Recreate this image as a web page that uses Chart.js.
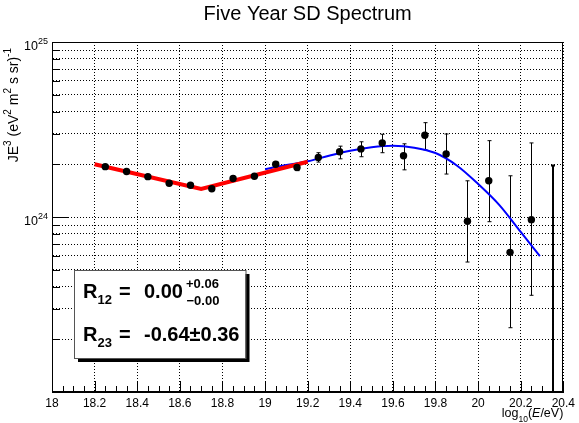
<!DOCTYPE html>
<html>
<head>
<meta charset="utf-8">
<script src="https://cdn.jsdelivr.net/npm/chart.js@4.4.1/dist/chart.umd.min.js"></script>
<style>
  html, body { margin: 0; padding: 0; background: #fff; }
  #wrap { width: 579px; height: 423px; }
</style>
</head>
<body>
<div id="wrap"><canvas id="spectrum" width="579" height="423"></canvas></div>
<script>
// log10(E/eV) bin centres
const logE = [18.25, 18.35, 18.45, 18.55, 18.65, 18.75, 18.85, 18.95, 19.05, 19.15,
              19.25, 19.35, 19.45, 19.55, 19.65, 19.75, 19.85, 19.95, 20.05, 20.15, 20.25];
// J E^3, in units of 1e24 eV^2 m^-2 s^-1 sr^-1
const flux   = [1.94, 1.82, 1.70, 1.56, 1.52, 1.45, 1.66, 1.71, 2.00, 1.92,
                2.19, 2.36, 2.45, 2.65, 2.24, 2.93, 2.29, 0.945, 1.61, 0.628, 0.966];
// upper / lower ends of the error bars (same units)
const fluxHi = [1.97, 1.85, 1.73, 1.59, 1.55, 1.48, 1.70, 1.76, 2.06, 2.00,
                2.33, 2.54, 2.69, 2.97, 2.62, 3.46, 2.98, 1.61, 2.73, 1.72, 2.65];
const fluxLo = [1.91, 1.79, 1.67, 1.53, 1.49, 1.42, 1.62, 1.66, 1.94, 1.84,
                2.06, 2.15, 2.21, 2.33, 1.86, 2.42, 1.76, 0.553, 0.94, 0.233, 0.357];
// empty bin, upper error only
const emptyE  = [20.35];
const emptyHi = [1.97];

// broken power law fit (red) and fit above the ankle (blue)
const fit12E = [18.2, 18.7, 19.2];
const fit12  = [2.00, 1.445, 2.07];
const fit23E = [19.0, 19.1, 19.2, 19.3, 19.4, 19.5, 19.6, 19.7, 19.8, 19.9, 20.0, 20.1, 20.2, 20.29];
const fit23  = [1.875, 1.98, 2.08, 2.24, 2.39, 2.50, 2.55, 2.49, 2.32, 1.97, 1.545, 1.17, 0.822, 0.598];

const UNIT = 1e24;
const yDecades = [23, 24, 25];
const yLabelDecades = [24, 25];
const mantissas = [1, 2, 3, 4, 5, 6, 7, 8, 9];

const FONT = '"Liberation Sans", Arial, Helvetica, sans-serif';

const yTicks = [];
yDecades.forEach(d => mantissas.forEach(m => {
  const v = m * Math.pow(10, d);
  if (v <= 1e25 * 1.0001) yTicks.push(v);
}));

function fnt(p) {
  return (p.italic ? 'italic ' : '') + (p.bold ? 'bold ' : '') + p.size + 'px ' + FONT;
}
function richWidth(ctx, parts) {
  let w = 0;
  parts.forEach(p => { ctx.font = fnt(p); w += ctx.measureText(p.t).width; });
  return w;
}
function drawRich(ctx, parts, x, y) {
  let cx = x;
  parts.forEach(p => {
    ctx.font = fnt(p);
    ctx.fillText(p.t, cx + (p.dx || 0), y + (p.dy || 0));
    cx += ctx.measureText(p.t).width;
  });
  return cx;
}

const rootStyle = {
  id: 'rootStyle',
  beforeDatasetsDraw(chart) {
    const ctx = chart.ctx, xs = chart.scales.x, ys = chart.scales.y;
    const area = chart.chartArea;
    ctx.save();
    ctx.strokeStyle = '#000';
    ctx.lineWidth = 1;
    logE.forEach((e, i) => {
      const px = Math.round(xs.getPixelForValue(e)) + 0.5;
      const top = ys.getPixelForValue(fluxHi[i] * UNIT);
      const bot = ys.getPixelForValue(fluxLo[i] * UNIT);
      ctx.beginPath();
      ctx.moveTo(px, top); ctx.lineTo(px, bot);
      ctx.moveTo(px - 2, top); ctx.lineTo(px + 2, top);
      ctx.moveTo(px - 2, bot); ctx.lineTo(px + 2, bot);
      ctx.stroke();
    });
    ctx.lineWidth = 2;
    emptyE.forEach((e, i) => {
      const px = Math.round(xs.getPixelForValue(e));
      const top = ys.getPixelForValue(emptyHi[i] * UNIT);
      ctx.beginPath();
      ctx.moveTo(px, top); ctx.lineTo(px, area.bottom);
      ctx.moveTo(px - 2, top); ctx.lineTo(px + 2, top);
      ctx.stroke();
    });
    ctx.restore();
  },
  afterDraw(chart) {
    const ctx = chart.ctx, xs = chart.scales.x, ys = chart.scales.y;
    const a = chart.chartArea;
    ctx.save();
    ctx.fillStyle = '#000';
    ctx.strokeStyle = '#000';
    ctx.lineWidth = 1;

    // frame
    ctx.strokeRect(Math.round(a.left) + 0.5, Math.round(a.top) + 0.5,
                   Math.round(a.right - a.left) - 1, Math.round(a.bottom - a.top) - 1);

    // inward ticks on the x axis
    ctx.beginPath();
    for (let k = 0; k <= 48; k++) {
      const v = 18 + k * 0.05;
      const px = Math.round(xs.getPixelForValue(v)) + 0.5;
      const len = (k % 4 === 0) ? 11 : 6;
      ctx.moveTo(px, a.bottom); ctx.lineTo(px, a.bottom - len);
    }
    // inward ticks on the y axis
    yTicks.forEach(v => {
      const py = Math.round(ys.getPixelForValue(v)) + 0.5;
      const m = Math.round(v / Math.pow(10, Math.floor(Math.log10(v) + 1e-9)));
      const len = (m === 1) ? 16 : 8;
      ctx.moveTo(a.left, py); ctx.lineTo(a.left + len, py);
    });
    ctx.stroke();

    // y tick labels 10^n
    ctx.textBaseline = 'alphabetic';
    yLabelDecades.forEach(d => {
      const py = ys.getPixelForValue(Math.pow(10, d));
      const parts = [{t: '10', size: 12.5}, {t: String(d), size: 9, dy: -5.5}];
      const w = richWidth(ctx, parts);
      drawRich(ctx, parts, a.left - 4 - w, py + 7.5);
    });

    // title
    ctx.font = '20px ' + FONT;
    ctx.textAlign = 'center';
    ctx.fillText('Five Year SD Spectrum', (a.left + a.right) / 2, 19.5);
    ctx.textAlign = 'left';

    // y axis title (rotated)
    ctx.save();
    ctx.translate(17.5, 48);
    ctx.rotate(-Math.PI / 2);
    const yt = [
      {t: 'JE', size: 14}, {t: '3', size: 10, dy: -6.5},
      {t: ' (eV', size: 14}, {t: '2', size: 10, dy: -6.5},
      {t: ' m', size: 14}, {t: '2', size: 10, dy: -6.5},
      {t: ' s sr)', size: 14}, {t: '-1', size: 10, dy: -6.5}
    ];
    drawRich(ctx, yt, -richWidth(ctx, yt), 0);
    ctx.restore();

    // x axis title
    const xt = [
      {t: 'log', size: 12.5}, {t: '10', size: 8.5, dy: 5},
      {t: '(', size: 12.5}, {t: 'E', size: 12.5, italic: true}, {t: '/eV)', size: 12.5}
    ];
    drawRich(ctx, xt, a.right - richWidth(ctx, xt), 417);

    // result box with shadow
    const bx = 74, by = 270, bw = 171.5, bh = 88;
    ctx.fillStyle = '#000';
    ctx.fillRect(bx + 4, by + 4, bw, bh);
    ctx.fillStyle = '#fff';
    ctx.fillRect(bx, by, bw, bh);
    ctx.strokeStyle = '#555';
    ctx.strokeRect(bx + 0.5, by + 0.5, bw, bh);

    ctx.fillStyle = '#000';
    drawRich(ctx, [{t: 'R', size: 20, bold: true}, {t: '12', size: 13, bold: true, dy: 6}], 83, 298);
    drawRich(ctx, [{t: '=', size: 20, bold: true}], 119, 298);
    drawRich(ctx, [{t: '0.00', size: 20, bold: true}], 144, 298);
    drawRich(ctx, [{t: '+0.06', size: 13, bold: true}], 186, 288);
    drawRich(ctx, [{t: '\u22120.00', size: 13, bold: true}], 186.5, 304.5);

    drawRich(ctx, [{t: 'R', size: 20, bold: true}, {t: '23', size: 13, bold: true, dy: 6}], 83, 341);
    drawRich(ctx, [{t: '=', size: 20, bold: true}], 119, 341);
    drawRich(ctx, [{t: '-0.64\u00b10.36', size: 20, bold: true}], 144, 341);

    ctx.restore();
  }
};

new Chart(document.getElementById('spectrum').getContext('2d'), {
  type: 'scatter',
  data: {
    datasets: [
      {
        label: 'SD spectrum',
        data: logE.map((e, i) => ({x: e, y: flux[i] * UNIT})),
        pointRadius: 3.7,
        pointBorderWidth: 0,
        backgroundColor: '#000',
        borderColor: '#000',
        showLine: false,
        order: 0
      },
      {
        type: 'line',
        label: 'R12 fit',
        data: fit12E.map((e, i) => ({x: e, y: fit12[i] * UNIT})),
        borderColor: '#ff0000',
        borderWidth: 4,
        pointRadius: 0,
        fill: false,
        order: 1
      },
      {
        type: 'line',
        label: 'R23 fit',
        data: fit23E.map((e, i) => ({x: e, y: fit23[i] * UNIT})),
        borderColor: '#0000ff',
        borderWidth: 2,
        pointRadius: 0,
        fill: false,
        cubicInterpolationMode: 'monotone',
        order: 2
      }
    ]
  },
  options: {
    responsive: false,
    animation: false,
    devicePixelRatio: 1,
    layout: { padding: { top: 42, right: 12, left: 0, bottom: 0 } },
    plugins: { legend: { display: false }, tooltip: { enabled: false }, title: { display: false } },
    scales: {
      x: {
        type: 'linear',
        min: 18,
        max: 20.4,
        afterFit: s => { s.height = 31; },
        ticks: {
          stepSize: 0.2,
          padding: 4,
          color: '#000',
          font: { family: FONT, size: 12 },
          maxRotation: 0,
          autoSkip: false,
          callback: v => String(Number(v.toFixed(1)))
        },
        grid: { color: '#000', lineWidth: 1, drawTicks: false },
        border: { display: true, color: '#000', width: 1, dash: [1, 2] }
      },
      y: {
        type: 'logarithmic',
        min: 1e23,
        max: 1e25,
        afterBuildTicks: s => { s.ticks = yTicks.map(v => ({value: v})); },
        afterFit: s => { s.width = 52; },
        ticks: { display: false },
        grid: { color: '#000', lineWidth: 1, drawTicks: false },
        border: { display: true, color: '#000', width: 1, dash: [1, 2] }
      }
    }
  },
  plugins: [rootStyle]
});
</script>
</body>
</html>
